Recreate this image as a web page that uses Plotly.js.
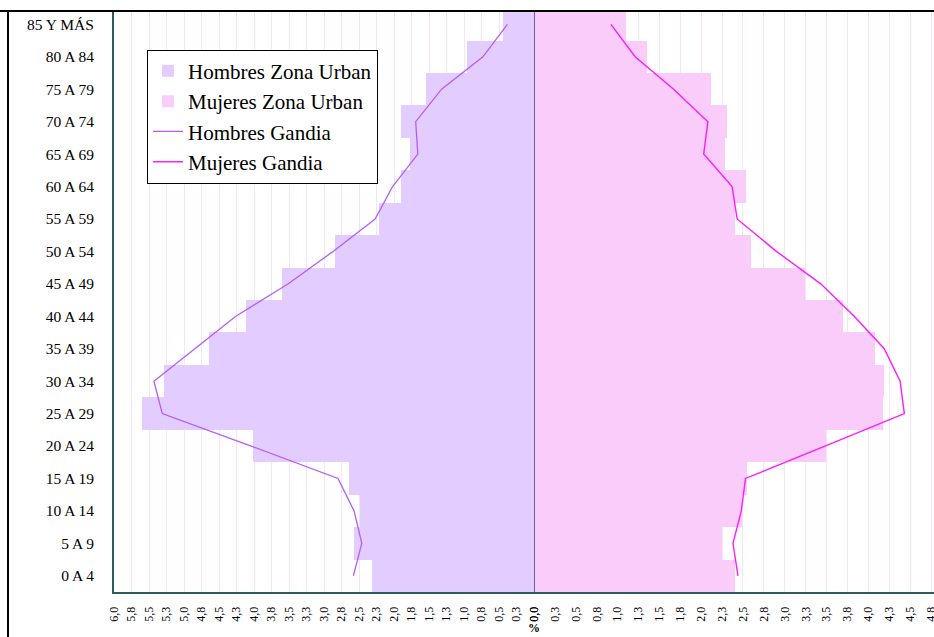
<!DOCTYPE html>
<html>
<head>
<meta charset="utf-8">
<script src="https://cdn.plot.ly/plotly-3.0.1.min.js"></script>
<style>
html,body{margin:0;padding:0;background:#fff;overflow:hidden;}
#chart{width:934px;height:637px;}
</style>
</head>
<body>
<div id="chart"></div>
<script>
// Age groups, bottom to top
var ageGroups = ['0 A 4','5 A 9','10 A 14','15 A 19','20 A 24','25 A 29','30 A 34','35 A 39','40 A 44','45 A 49','50 A 54','55 A 59','60 A 64','65 A 69','70 A 74','75 A 79','80 A 84','85 Y MÁS'];

// Percent values (%)
var hombresZonaUrban = [2.32,2.57,2.49,2.65,4.02,5.60,5.28,4.64,4.11,3.60,2.84,2.21,1.90,1.77,1.90,1.54,0.96,0.45];
var mujeresZonaUrban = [2.41,2.25,2.49,2.55,3.49,4.18,4.19,4.08,3.70,3.24,2.59,2.41,2.54,2.28,2.31,2.12,1.35,1.10];
var hombresGandia    = [2.58,2.46,2.57,2.80,4.04,5.31,5.43,4.84,4.26,3.51,2.87,2.27,2.02,1.66,1.69,1.32,0.73,0.38];
var mujeresGandia    = [2.44,2.38,2.48,2.53,3.48,4.43,4.38,4.19,3.83,3.43,2.90,2.43,2.37,2.03,2.08,1.67,1.21,0.92];

// Tick labels
var leftTickVals  = [0,0.25,0.5,0.75,1,1.25,1.5,1.75,2,2.25,2.5,2.75,3,3.25,3.5,3.75,4,4.25,4.5,4.75,5,5.25,5.5,5.75,6];
var leftTickText  = ['0,0','0,3','0,5','0,8','1,0','1,3','1,5','1,8','2,0','2,3','2,5','2,8','3,0','3,3','3,5','3,8','4,0','4,3','4,5','4,8','5,0','5,3','5,5','5,8','6,0'];
var rightTickVals = [0,0.25,0.5,0.75,1,1.25,1.5,1.75,2,2.25,2.5,2.75,3,3.25,3.5,3.75,4,4.25,4.5,4.75];
var rightTickText = ['0,0','0,3','0,5','0,8','1,0','1,3','1,5','1,8','2,0','2,3','2,5','2,8','3,0','3,3','3,5','3,8','4,0','4,3','4,5','4,8'];

var serif = '"Liberation Serif", "Times New Roman", serif';
var split = 420/820;

var traces = [
  {type:'bar', orientation:'h', name:'Hombres Zona Urban', y:ageGroups, x:hombresZonaUrban,
   xaxis:'x', yaxis:'y', marker:{color:'#E3CCFF', line:{width:0}}, legendgroup:'a'},
  {type:'bar', orientation:'h', name:'Mujeres Zona Urban', y:ageGroups, x:mujeresZonaUrban,
   xaxis:'x2', yaxis:'y', marker:{color:'#FACCFA', line:{width:0}}, legendgroup:'b'},
  {type:'scatter', mode:'lines', name:'Hombres Gandia', y:ageGroups, x:hombresGandia,
   xaxis:'x', yaxis:'y', line:{color:'#B25EF7', width:1.3}, legendgroup:'c'},
  {type:'scatter', mode:'lines', name:'Mujeres Gandia', y:ageGroups, x:mujeresGandia,
   xaxis:'x2', yaxis:'y', line:{color:'#FF1CFF', width:1.4}, legendgroup:'d'}
];

var axisCommon = {
  showgrid:true, gridcolor:'#F3E4F7', gridwidth:1, zeroline:false,
  tickmode:'array', tickangle:-90, ticks:'', ticklabelstandoff:8,
  ticklabeloverflow:'allow',
  tickfont:{family:serif, size:12, color:'#000'},
  showline:true, linecolor:'#2E5C5C', linewidth:2, fixedrange:true
};

var layout = {
  width:934, height:637,
  margin:{l:114, r:0, t:12, b:45, pad:0},
  paper_bgcolor:'#fff', plot_bgcolor:'#fff',
  barmode:'overlay', bargap:0,
  showlegend:true,
  legend:{x:0.0402, y:0.935, xanchor:'left', yanchor:'top',
    bgcolor:'#fff', bordercolor:'#000', borderwidth:1,
    font:{family:serif, size:21, color:'#000'},
    traceorder:'grouped', tracegroupgap:0, itemwidth:30},
  xaxis:Object.assign({}, axisCommon, {domain:[0, split], range:[6, 0],
    tickvals:leftTickVals, ticktext:leftTickText}),
  xaxis2:Object.assign({}, axisCommon, {domain:[split, 1], range:[0, 4.785],
    tickvals:rightTickVals, ticktext:rightTickText, showline:true}),
  yaxis:{type:'category', categoryorder:'array', categoryarray:ageGroups,
    range:[-0.5, 17.38], showgrid:false, zeroline:false, ticks:'',
    ticklabelstandoff:15, tickfont:{family:serif, size:15.5, color:'#000'},
    showline:true, linecolor:'#2E5C5C', linewidth:2, fixedrange:true},
  shapes:[
    {type:'line', xref:'x2', yref:'paper', x0:0, x1:0, y0:0, y1:1,
     line:{color:'#5E6A8A', width:2}, layer:'above'},
    {type:'line', xref:'paper', yref:'paper', x0:-114/820, x1:1.01, y0:1+1/580, y1:1+1/580,
     line:{color:'#000', width:2}, layer:'above'},
    {type:'line', xref:'paper', yref:'paper', x0:-106/820, x1:-106/820, y0:-0.2, y1:1+1/580,
     line:{color:'#000', width:2}, layer:'above'}
  ],
  annotations:[
    {text:'<b>%</b>', xref:'paper', yref:'paper', x:split, y:-36/580, yanchor:'middle',
     showarrow:false, borderpad:0, font:{family:serif, size:12, color:'#000'}}
  ]
};

Plotly.newPlot('chart', traces, layout, {staticPlot:true, displayModeBar:false});
</script>
</body>
</html>
